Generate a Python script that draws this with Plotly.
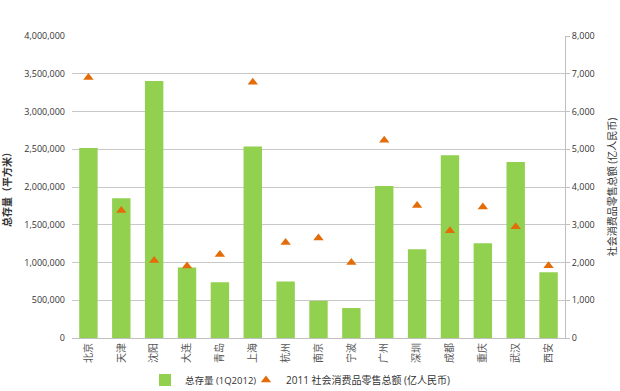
import plotly.graph_objects as go

cities = ["北京", "天津", "沈阳", "大连", "青岛", "上海", "杭州", "南京", "宁波",
          "广州", "深圳", "成都", "重庆", "武汉", "西安"]
stock_sqm = [2515000, 1850000, 3405000, 935000, 737000, 2535000, 750000, 492000, 397000,
             2013000, 1175000, 2420000, 1255000, 2330000, 870000]
retail_2011 = [6900, 3375, 2050, 1905, 2215, 6775, 2530, 2650, 2000,
               5240, 3510, 2840, 3470, 2945, 1915]

left_ticks = [0, 500000, 1000000, 1500000, 2000000, 2500000, 3000000, 3500000, 4000000]
right_ticks = [0, 1000, 2000, 3000, 4000, 5000, 6000, 7000, 8000]

font_family = "Open Sans, Noto Sans CJK SC, sans-serif"

fig = go.Figure()
fig.add_trace(go.Bar(
    x=cities, y=stock_sqm, name="总存量 (1Q2012)",
    marker=dict(color="#92d050", line=dict(width=0)),
    yaxis="y", legend="legend",
))
fig.add_trace(go.Scatter(
    x=cities, y=retail_2011, name="2011 社会消费品零售总额 (亿人民币)",
    mode="markers",
    marker=dict(symbol="triangle-up", color="#e36c09", size=9),
    yaxis="y2", legend="legend2",
))

legend_common = dict(orientation="h", xanchor="left", xref="container",
                     y=0.028, yanchor="middle", yref="container",
                     itemwidth=30, bgcolor="rgba(0,0,0,0)")

fig.update_layout(
    width=620, height=391,
    margin=dict(l=72, r=55, t=36, b=53, autoexpand=False),
    paper_bgcolor="white", plot_bgcolor="white",
    font=dict(family=font_family, size=9, color="#333333"),
    bargap=0.44,
    showlegend=True,
    legend=dict(x=145 / 620, font=dict(size=9.5, color="#333333"), **legend_common),
    legend2=dict(x=246 / 620, font=dict(size=10, color="#333333"), **legend_common),
    xaxis=dict(
        type="category", range=[-0.5, 14.5], tickangle=-90,
        tickfont=dict(size=10, color="#555555"),
        showgrid=False, showline=True, linecolor="#bfbfbf", linewidth=1,
        ticks="", zeroline=False, automargin=False,
    ),
    yaxis=dict(
        range=[0, 4000000], tickvals=left_ticks,
        ticktext=[f"{v:,}" for v in left_ticks],
        showgrid=True, gridcolor="#c8c8c8", gridwidth=1,
        zeroline=False, showline=False, ticks="", automargin=False,
        ticklabelstandoff=6,
        tickfont=dict(size=9, color="#333333"),
        title=dict(text="<b>总存量（平方米）</b>", font=dict(size=10, color="#333333")),
    ),
    yaxis2=dict(
        range=[0, 8000], tickvals=right_ticks,
        ticktext=[f"{v:,}" for v in right_ticks],
        overlaying="y", side="right",
        showgrid=False, zeroline=False, automargin=False,
        showline=True, linecolor="#bfbfbf", linewidth=1,
        ticks="outside", ticklen=4, tickcolor="#bfbfbf",
        tickfont=dict(size=9, color="#333333"),
        title=dict(text="社会消费品零售总额 (亿人民币)", font=dict(size=10, color="#333333")),
    ),
)

fig.write_html("out.html", config={"displayModeBar": False},
               post_script="document.body.style.margin='0';")
